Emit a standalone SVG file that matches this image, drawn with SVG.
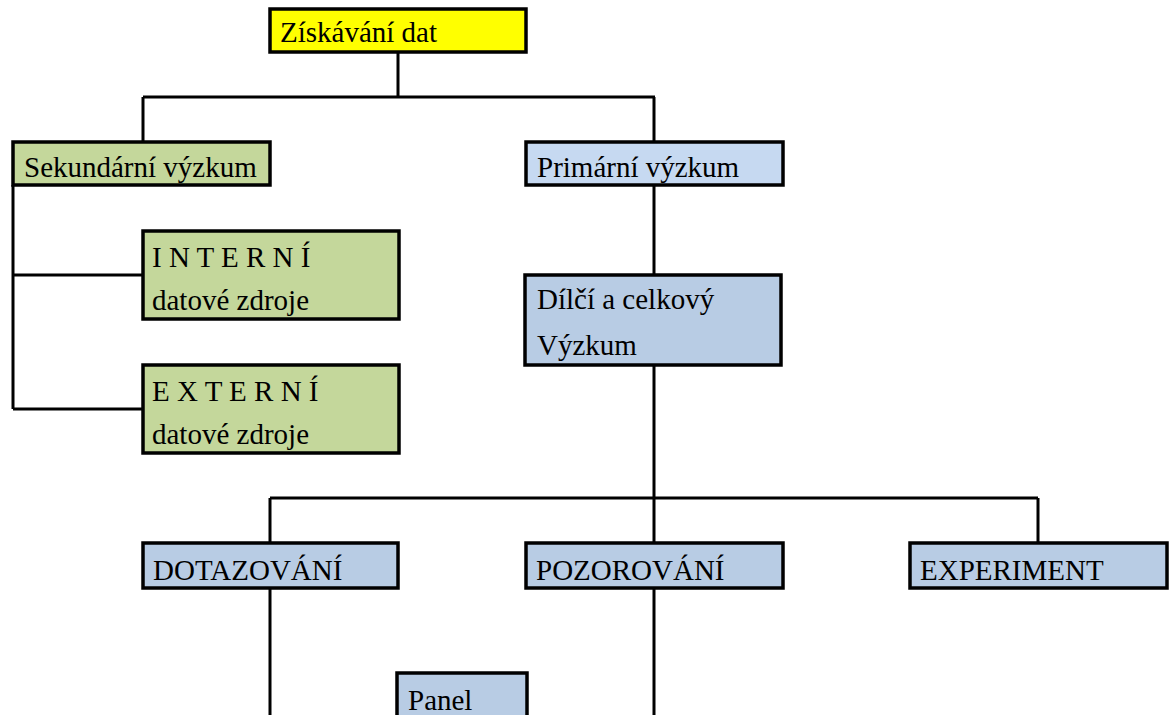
<svg xmlns="http://www.w3.org/2000/svg" width="1175" height="715" viewBox="0 0 1175 715">
<style>
.box{stroke:#000;stroke-width:3.5}
.y{fill:#FFFF00}
.g{fill:#C4D79B}
.lb{fill:#C6D9F1}
.b{fill:#B8CCE4}
.t{font-family:"Liberation Serif","Times New Roman",serif;font-size:29px;fill:#000}
.c{stroke:#000;stroke-width:3;fill:none}
</style>
<rect width="1175" height="715" fill="#fff"/>
<g id="connectors">
<path class="c" d="M398,52V97M143,97H655M143,97V142M654,97V142"/>
<path class="c" d="M13,185V409M13,275H143M13,409H143"/>
<path class="c" d="M654,185V275M654,365V498"/>
<path class="c" d="M270,498H1038M270,498V543M654,498V543M1038,498V543"/>
<path class="c" d="M270,588V715M654,588V715"/>
</g>
<g id="n-ziskavani"><rect class="box y" x="270" y="9" width="256" height="43"/><text class="t" x="280" y="42">Získávání dat</text></g>
<g id="n-sekundarni"><rect class="box g" x="13" y="142" width="257" height="43"/><text class="t" x="24" y="177">Sekundární výzkum</text></g>
<g id="n-primarni"><rect class="box lb" x="526" y="142" width="257" height="43"/><text class="t" x="537" y="177">Primární výzkum</text></g>
<g id="n-interni"><rect class="box g" x="143" y="231" width="256" height="88"/><text class="t" x="152" y="267">I N T E R N Í</text><text class="t" x="152" y="310">datové zdroje</text></g>
<g id="n-externi"><rect class="box g" x="143" y="365" width="256" height="88"/><text class="t" x="152" y="401">E X T E R N Í</text><text class="t" x="152" y="444">datové zdroje</text></g>
<g id="n-dilci"><rect class="box b" x="525" y="275" width="256" height="90"/><text class="t" x="537" y="309">Dílčí a celkový</text><text class="t" x="537" y="355">Výzkum</text></g>
<g id="n-dotazovani"><rect class="box b" x="143" y="543" width="255" height="45"/><text class="t" x="153" y="580">DOTAZOVÁNÍ</text></g>
<g id="n-pozorovani"><rect class="box b" x="526" y="543" width="257" height="45"/><text class="t" x="536" y="580">POZOROVÁNÍ</text></g>
<g id="n-experiment"><rect class="box b" x="910" y="543" width="257" height="45"/><text class="t" x="920" y="580">EXPERIMENT</text></g>
<g id="n-panel"><rect class="box b" x="397" y="673" width="130" height="80"/><text class="t" x="408" y="710">Panel</text></g>
</svg>
